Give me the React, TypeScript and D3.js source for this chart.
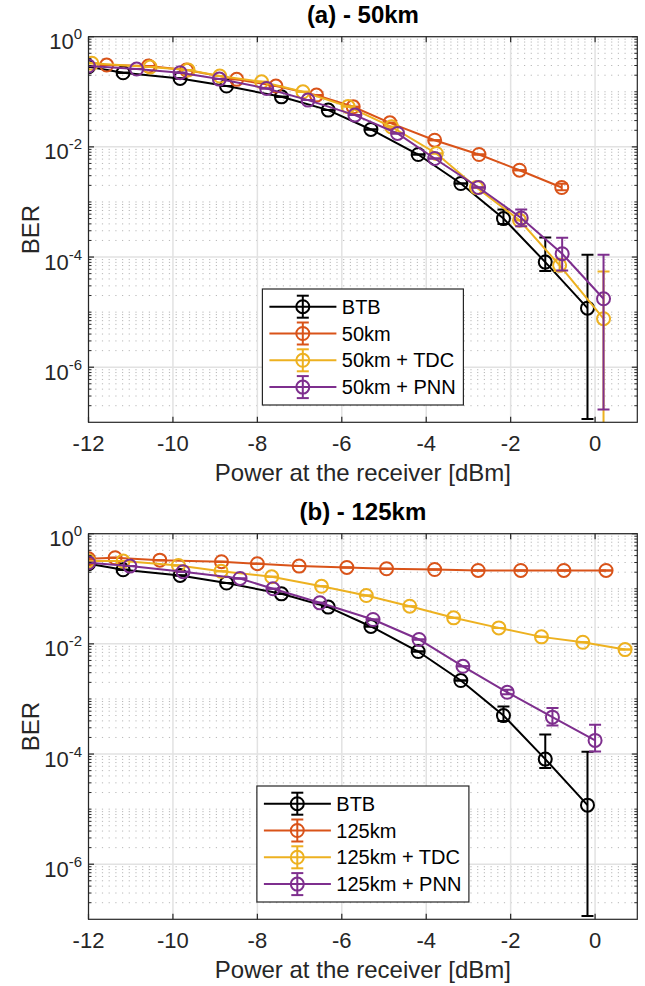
import * as d3 from 'd3';

// x ticks (dBm) and labelled decades
const xTicks = [-12, -10, -8, -6, -4, -2, 0];
const yTickExps = [0, -2, -4, -6];

// ---- panel (a) 50 km ----
const btbX = [-12.0, -11.18, -9.83, -8.73, -7.43, -6.32, -5.31, -4.19, -3.18, -2.17, -1.18, -0.18];
const btbBer = [0.285, 0.221, 0.175, 0.127, 0.081, 0.0465, 0.0207, 0.00727, 0.00216, 4.99e-4, 8.1e-5, 1.18e-5];
const btbNeg = [0, 0, 0, 0, 0, 0, 0, 0, 0, 1.0e-4, 2.54e-5, 1.1685e-5];
const btbPos = [0, 0, 0, 0, 0, 0, 0, 0, 0, 2.3e-4, 1.45e-4, 9.8e-5];

const km50X = [-11.57, -10.58, -9.68, -8.49, -7.56, -6.6, -5.73, -4.86, -3.8, -2.75, -1.79, -0.79];
const km50Ber = [0.306, 0.293, 0.248, 0.168, 0.127, 0.087, 0.0534, 0.0273, 0.0132, 0.00727, 0.00377, 0.00183];
const km50Neg = [0, 0, 0, 0, 0, 0, 0, 0, 0, 0, 0, 2e-4];
const km50Pos = [0, 0, 0, 0, 0, 0, 0, 0, 0, 0, 0, 3e-4];

const km50TdcX = [-11.92, -10.54, -9.64, -8.89, -7.9, -6.92, -5.85, -4.82, -3.76, -2.81, -1.79, -0.84, 0.2];
const km50TdcBer = [0.328, 0.281, 0.248, 0.193, 0.152, 0.1, 0.0538, 0.0231, 0.00759, 0.00183, 4.65e-4, 7.06e-5, 7.59e-6];
const km50TdcNeg = [0, 0, 0, 0, 0, 0, 0, 0, 0, 0, 0, 1.5e-5, 7.59e-6];
const km50TdcPos = [0, 0, 0, 0, 0, 0, 0, 0, 0, 0, 0, 2e-5, 4.7e-5];

const km50PnnX = [-12.0, -10.86, -9.83, -8.9, -7.78, -6.8, -5.69, -4.68, -3.8, -2.76, -1.75, -0.78, 0.2];
const km50PnnBer = [0.293, 0.259, 0.222, 0.17, 0.115, 0.0706, 0.0377, 0.0175, 0.00615, 0.00183, 5.12e-4, 1.15e-4, 1.75e-5];
const km50PnnNeg = [0, 0, 0, 0, 0, 0, 0, 0, 0, 0, 1.5e-4, 5.8e-5, 1.733e-5];
const km50PnnPos = [0, 0, 0, 0, 0, 0, 0, 0, 0, 0, 2.2e-4, 1.1e-4, 9.25e-5];

// ---- panel (b) 125 km ----
const km125X = [-12, -11.37, -10.31, -8.85, -8.0, -7.01, -5.88, -4.94, -3.8, -2.77, -1.76, -0.74, 0.26];
const km125Ber = [0.35, 0.366, 0.331, 0.31, 0.285, 0.258, 0.244, 0.231, 0.224, 0.215, 0.215, 0.215, 0.215];
const km125Neg = [0, 0, 0, 0, 0, 0, 0, 0, 0, 0, 0, 0, 0];
const km125Pos = [0, 0, 0, 0, 0, 0, 0, 0, 0, 0, 0, 0, 0];

const km125TdcX = [-12, -11.18, -9.87, -8.86, -7.66, -6.48, -5.42, -4.39, -3.35, -2.28, -1.27, -0.29, 0.71];
const km125TdcBer = [0.32, 0.318, 0.265, 0.209, 0.165, 0.111, 0.0755, 0.0483, 0.0297, 0.0195, 0.0134, 0.0107, 0.00787];
const km125TdcNeg = [0, 0, 0, 0, 0, 0, 0, 0, 0, 0, 0, 0, 0];
const km125TdcPos = [0, 0, 0, 0, 0, 0, 0, 0, 0, 0, 0, 0, 0];

const km125PnnX = [-12, -11.02, -9.76, -8.41, -7.63, -6.52, -5.26, -4.17, -3.13, -2.08, -1.01, 0.0];
const km125PnnBer = [0.297, 0.258, 0.204, 0.154, 0.1, 0.0556, 0.0277, 0.012, 0.00392, 0.00132, 4.67e-4, 1.77e-4];
const km125PnnNeg = [0, 0, 0, 0, 0, 0, 0, 0, 0, 1e-4, 1.36e-4, 6.6e-5];
const km125PnnPos = [0, 0, 0, 0, 0, 0, 0, 0, 0, 1.5e-4, 2.2e-4, 1.64e-4];

const BLACK = '#000000';
const ORANGE = '#D95319';
const YELLOW = '#EDB120';
const PURPLE = '#7E2F8E';
const AXIS = '#262626';
const FONT = '"Liberation Sans", Arial, Helvetica, sans-serif';

const seriesA = [
  { name: 'BTB', color: BLACK, x: btbX, y: btbBer, neg: btbNeg, pos: btbPos },
  { name: '50km', color: ORANGE, x: km50X, y: km50Ber, neg: km50Neg, pos: km50Pos },
  { name: '50km + TDC', color: YELLOW, x: km50TdcX, y: km50TdcBer, neg: km50TdcNeg, pos: km50TdcPos },
  { name: '50km + PNN', color: PURPLE, x: km50PnnX, y: km50PnnBer, neg: km50PnnNeg, pos: km50PnnPos },
];
const seriesB = [
  { name: 'BTB', color: BLACK, x: btbX, y: btbBer, neg: btbNeg, pos: btbPos },
  { name: '125km', color: ORANGE, x: km125X, y: km125Ber, neg: km125Neg, pos: km125Pos },
  { name: '125km + TDC', color: YELLOW, x: km125TdcX, y: km125TdcBer, neg: km125TdcNeg, pos: km125TdcPos },
  { name: '125km + PNN', color: PURPLE, x: km125PnnX, y: km125PnnBer, neg: km125PnnNeg, pos: km125PnnPos },
];

function Panel({ id, top, title, series, legendW }) {
  const left = 88.5;
  const right = 637.3;
  const bottom = top + 385.6;
  const x = d3.scaleLinear().domain([-12, 1]).range([left, right]);
  const y = d3.scaleLog().domain([1e-7, 1]).range([bottom, top]);

  // minor ticks: every n*10^k that is not a labelled decade
  const minor: number[] = [];
  for (let k = -7; k < 0; k++) {
    for (let n = 1; n <= 9; n++) {
      const v = n * Math.pow(10, k);
      if (n === 1 && (k % 2 === 0 || k === -7)) continue;
      minor.push(v);
    }
  }
  const majorY = yTickExps.map((e) => Math.pow(10, e));

  const line = d3.line<number>().x((d) => d[0]).y((d) => d[1]);
  const cap = 6;
  const r = 6.5;
  const clamp = (v: number) => (v <= 0 ? 1e-9 : v);

  const legH = 116;
  const legBottom = bottom - 17.3;
  const legTop = legBottom - legH;
  const legLeft = (left + right) / 2 - legendW / 2;

  return (
    <g>
      <defs>
        <clipPath id={id}>
          <rect x={left} y={top} width={right - left} height={bottom - top} />
        </clipPath>
      </defs>
      <rect x={left} y={top} width={right - left} height={bottom - top} fill="#fff" />
      {/* minor grid */}
      {minor.map((v, i) => (
        <line key={'mg' + i} x1={left} x2={right} y1={y(v)} y2={y(v)}
          stroke="#b8b8b8" strokeWidth={1} strokeDasharray="1.2,5.5" />
      ))}
      {/* major grid */}
      {majorY.map((v, i) => (
        <line key={'Mg' + i} x1={left} x2={right} y1={y(v)} y2={y(v)} stroke="#e2e2e2" strokeWidth={1.5} />
      ))}
      {xTicks.map((t) => (
        <line key={'xg' + t} x1={x(t)} x2={x(t)} y1={top} y2={bottom} stroke="#e2e2e2" strokeWidth={1.5} />
      ))}

      {/* data */}
      <g clipPath={`url(#${id})`}>
        {series.map((s) => {
          const pts = s.x.map((xv, i) => [x(xv), y(s.y[i])]);
          return (
            <g key={s.name} stroke={s.color} strokeWidth={2} fill="none">
              <path d={line(pts as any) || ''} />
              {s.x.map((xv, i) => {
                const cx = x(xv);
                const y1 = y(clamp(s.y[i] - s.neg[i]));
                const y2 = y(s.y[i] + s.pos[i]);
                return (
                  <g key={i}>
                    <line x1={cx} x2={cx} y1={y1} y2={y2} />
                    <line x1={cx - cap} x2={cx + cap} y1={y1} y2={y1} />
                    <line x1={cx - cap} x2={cx + cap} y1={y2} y2={y2} />
                    <circle cx={cx} cy={y(s.y[i])} r={r} />
                  </g>
                );
              })}
            </g>
          );
        })}
      </g>

      {/* box and ticks */}
      <rect x={left} y={top} width={right - left} height={bottom - top} fill="none" stroke={AXIS} strokeWidth={1.2} />
      {xTicks.map((t) => (
        <g key={'xt' + t} stroke={AXIS} strokeWidth={1.2}>
          <line x1={x(t)} x2={x(t)} y1={bottom} y2={bottom - 5.5} />
          <line x1={x(t)} x2={x(t)} y1={top} y2={top + 5.5} />
        </g>
      ))}
      {majorY.map((v, i) => (
        <g key={'yt' + i} stroke={AXIS} strokeWidth={1.2}>
          <line x1={left} x2={left + 5.5} y1={y(v)} y2={y(v)} />
          <line x1={right} x2={right - 5.5} y1={y(v)} y2={y(v)} />
        </g>
      ))}
      {minor.map((v, i) => (
        <g key={'ym' + i} stroke={AXIS} strokeWidth={1}>
          <line x1={left} x2={left + 3} y1={y(v)} y2={y(v)} />
          <line x1={right} x2={right - 3} y1={y(v)} y2={y(v)} />
        </g>
      ))}

      {/* tick labels */}
      {xTicks.map((t) => (
        <text key={'xl' + t} x={x(t)} y={bottom + 28.5} textAnchor="middle" fontSize={22} fill={AXIS} fontFamily={FONT}>
          {t}
        </text>
      ))}
      {yTickExps.map((e) => (
        <text key={'yl' + e} x={82} y={y(Math.pow(10, e)) + 12.5} textAnchor="end" fontSize={22} fill={AXIS} fontFamily={FONT}>
          10<tspan fontSize={15} dy={-10}>{e}</tspan>
        </text>
      ))}

      <text x={(left + right) / 2} y={bottom + 59} textAnchor="middle" fontSize={24} fill={AXIS} fontFamily={FONT}>
        Power at the receiver [dBm]
      </text>
      <text transform={`translate(38.5,${(top + bottom) / 2}) rotate(-90)`} textAnchor="middle" fontSize={24} fill={AXIS} fontFamily={FONT}>
        BER
      </text>
      <text x={(left + right) / 2} y={top - 13.5} textAnchor="middle" fontSize={24} fontWeight="bold" fill="#000" fontFamily={FONT}>
        {title}
      </text>

      {/* legend */}
      <rect x={legLeft} y={legTop} width={legendW} height={legH} fill="#fff" stroke={AXIS} strokeWidth={1.2} />
      {series.map((s, i) => {
        const cy = legTop + 17.7 + i * 26.8;
        const mx = legLeft + 40.4;
        return (
          <g key={'lg' + s.name}>
            <g stroke={s.color} strokeWidth={2} fill="none">
              <line x1={legLeft + 7} x2={legLeft + 74} y1={cy} y2={cy} />
              <line x1={mx} x2={mx} y1={cy - 11} y2={cy + 11} />
              <line x1={mx - cap} x2={mx + cap} y1={cy - 11} y2={cy - 11} />
              <line x1={mx - cap} x2={mx + cap} y1={cy + 11} y2={cy + 11} />
              <circle cx={mx} cy={cy} r={r} />
            </g>
            <text x={legLeft + 79.4} y={cy + 7} fontSize={20} fill="#000" fontFamily={FONT}>
              {s.name}
            </text>
          </g>
        );
      })}
    </g>
  );
}

export default function App() {
  return (
    <svg width={645} height={986} style={{ position: 'absolute', left: 0, top: 0, background: '#fff' }}>
      <rect width={645} height={986} fill="#fff" />
      <Panel id="clipA" top={36.7} title="(a) - 50km" series={seriesA} legendW={201} />
      <Panel id="clipB" top={533.7} title="(b) - 125km" series={seriesB} legendW={212} />
    </svg>
  );
}
